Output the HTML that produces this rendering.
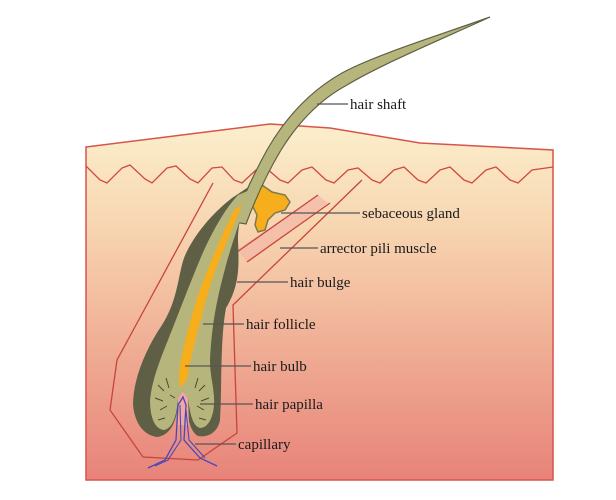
<!DOCTYPE html>
<html><head><meta charset="utf-8"><style>
html,body{margin:0;padding:0;background:#fff;}
svg{display:block;}
text{font-family:"Liberation Serif",serif;font-size:15px;fill:#1a1a1a;}
</style></head><body>
<svg width="616" height="500" viewBox="0 0 616 500" xmlns="http://www.w3.org/2000/svg">
<defs>
<linearGradient id="sk" x1="0" y1="0" x2="0" y2="1">
<stop offset="0" stop-color="#fcefcc"/>
<stop offset="0.3" stop-color="#f7d4b0"/>
<stop offset="0.7" stop-color="#eea58f"/>
<stop offset="1" stop-color="#e8837a"/>
</linearGradient>
</defs>
<path d="M86,147 L270,124 L330,128 L420,143 L553,150 L553,480 L86,480 Z" fill="url(#sk)" stroke="#d9534a" stroke-width="1.5"/>
<polyline fill="none" stroke="#d04a40" stroke-width="1.3" points="86,166 100,180 107,183 122,168 130,165 145,179 152,183 167,168 176,166 190,179 198,183 212,168 222,167 234,180 242,183 256,170 266,168 280,180 288,183 302,170 312,167 326,180 334,183 348,170 358,168 372,180 380,183 394,170 404,167 418,180 426,183 440,170 450,167 464,180 472,183 486,170 496,167 510,180 518,183 532,170 553,167"/>
<polyline fill="none" stroke="#c8443b" stroke-width="1.3" points="213,183 117,360 110,410 143,457 198,460 237,433 233,305 362,180"/>
<path d="M237,250 L318,195 L328,203 L247,262 Z" fill="#f4b6a6" opacity="0.7"/>
<line x1="237" y1="252" x2="318" y2="195" stroke="#c8443b" stroke-width="1.3"/>
<line x1="247" y1="262" x2="330" y2="203" stroke="#c8443b" stroke-width="1.3"/>
<path d="M262,185 L272,192 L285,195 L290,202 L285,210 L275,213 L268,220 L265,230 L258,232 L255,225 L257,215 L252,205 L256,193 Z" fill="#f6ae1c" stroke="#7d7b4e" stroke-width="1.5"/>
<path d="M250,186 C244,205 238,220 238,240 C239,265 240,285 226,308 C220,340 222,390 220,420 C218,432 208,438 198,436 C190,432 187,415 186,405 L182,399 L178,406 C176,420 172,434 158,437 C145,436 135,425 133,405 C133,380 145,350 162,325 C178,300 178,275 184,258 C192,238 210,215 232,198 Z" fill="#5e5f45"/>
<path d="M490,17 C440,35 375,55 342,73 C312,90 287,115 267,150 C252,177 242,200 234,222 L246,224 C255,200 266,175 281,150 C299,121 321,99 347,85 C382,64 442,39 490,17 Z" fill="#b6b67c" stroke="#5e5f45" stroke-width="1.2"/>
<path d="M250,190 C240,220 230,250 226,265 C218,295 212,320 210,360 C210,378 215,390 214,405 C213,418 208,428 200,428 C193,426 190,415 188,398 L183,391 L178,398 C177,412 174,428 164,430 C155,429 150,418 150,400 C152,380 160,360 168,340 C180,310 195,270 205,248 C216,225 226,208 238,195 Z" fill="#b6b67c"/>
<path d="M242,205 C228,240 214,270 206,300 C198,330 190,360 187,380 L180,388 C178,378 179,370 181,360 C186,335 192,315 198,295 C210,262 222,235 234,210 Z" fill="#f6ae1c"/>
<g stroke="#4a4a35" stroke-width="1" fill="none">
<path d="M158,385 l6,6 M155,398 l8,3 M160,410 l7,-4 M166,378 l3,10 M170,395 l5,3 M158,420 l7,-2 M205,385 l-6,6 M209,398 l-8,3 M204,410 l-7,-4 M198,378 l-3,10 M206,420 l-7,-2"/>
</g>
<path d="M183,391 L188,398 L189,425 L178,425 L178,398 Z" fill="#f3a7a1"/>
<path d="M148,468 L165,460 L176,440 L178,405 L183,397 L186,405 L184,440 L200,458 L217,466" fill="none" stroke="#4848b8" stroke-width="1.3"/>
<path d="M180,405 L181,440 L168,460 L155,466 M186,410 L189,440 L205,458" fill="none" stroke="#4848b8" stroke-width="1.1"/>
<g stroke="#555" stroke-width="1.2">
<line x1="317" y1="104" x2="348" y2="104"/>
<line x1="281" y1="213" x2="360" y2="213"/>
<line x1="280" y1="248" x2="318" y2="248"/>
<line x1="237" y1="282" x2="288" y2="282"/>
<line x1="203" y1="324" x2="244" y2="324"/>
<line x1="185" y1="366" x2="251" y2="366"/>
<line x1="200" y1="404" x2="253" y2="404"/>
<line x1="195" y1="444" x2="236" y2="444"/>
</g>
<text x="350" y="109">hair shaft</text>
<text x="362" y="218">sebaceous gland</text>
<text x="320" y="253">arrector pili muscle</text>
<text x="290" y="287">hair bulge</text>
<text x="246" y="329">hair follicle</text>
<text x="253" y="371">hair bulb</text>
<text x="255" y="409">hair papilla</text>
<text x="238" y="449">capillary</text>
</svg>
</body></html>
